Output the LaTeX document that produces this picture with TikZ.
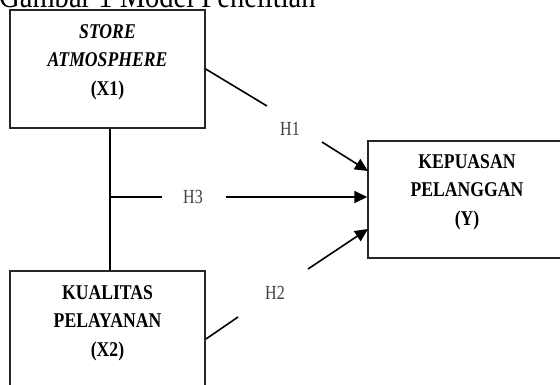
\documentclass[tikz,border=0pt]{standalone}
\usepackage{fontspec}
\setmainfont{Liberation Serif}
\newfontfamily\boxfont{Liberation Serif}[FakeStretch=0.84]
\newfontfamily\labfont{Liberation Serif}[FakeStretch=0.80]
\usetikzlibrary{arrows.meta}
\definecolor{edge}{HTML}{262626}
\definecolor{labgray}{HTML}{404040}
\tikzset{
  box/.style={draw=edge, line width=1.4pt, rectangle, inner sep=0pt},
  boxtext/.style={align=center, inner sep=0pt, font=\boxfont\fontsize{21}{28.5}\selectfont\bfseries},
  hlabel/.style={inner sep=0pt, text=labgray, font=\labfont\fontsize{20}{24}\selectfont},
  conn/.style={draw=black, line width=1.6pt},
  arr/.style={conn, -{Triangle[length=13pt,width=12pt]}},
}
\begin{document}
\begin{tikzpicture}[x=1pt,y=-1pt]
\useasboundingbox (0,0) rectangle (560,384);
\clip (0,0) rectangle (560,384);
% title
\node[anchor=base west, inner sep=0pt, font=\boxfont\fontsize{34}{40}\selectfont] (title) at (-1,7.5) {Gambar 1 Model Penelitian};
% boxes
\node[box, minimum width=195pt, minimum height=118pt] (x1) at (107.5,69) {};
\node[box, minimum width=195pt, minimum height=150pt] (x2) at (107.5,346) {};
\node[box, minimum width=199pt, minimum height=117pt] (y) at (467.5,199.5) {};
% box texts
\node[boxtext, anchor=center] (x1t) at (107.5,62) {\itshape STORE\\\itshape ATMOSPHERE\\(X1)};
\node[boxtext, anchor=center] (x2t) at (107.5,323) {KUALITAS\\PELAYANAN\\(X2)};
\node[boxtext, anchor=center] (yt) at (467,192) {KEPUASAN\\PELANGGAN\\(Y)};
% helper points
\coordinate (j) at (110,197);
\coordinate (h3a) at (162,197);
\coordinate (h3b) at (226,197);
\coordinate (h1a) at (267,106);
\coordinate (h1b) at (322,142);
\coordinate (yin1) at (368,171);
\coordinate (x2out) at (206,339);
\coordinate (h2a) at (238,317);
\coordinate (h2b) at (308,269);
\coordinate (yin2) at (368,229);
% labels
\node[hlabel] (h1) at (290,129) {H1};
\node[hlabel] (h3) at (193,196.5) {H3};
\node[hlabel] (h2) at (275,293) {H2};
% connectors
\draw[conn] (x1.south -| j) -- (x2.north -| j);
\draw[conn] (j) -- (h3a);
\draw[arr] (h3b) -- (y.west |- j);
\draw[conn] (x1.east) -- (h1a);
\draw[arr] (h1b) -- (yin1);
\draw[conn] (x2out) -- (h2a);
\draw[arr] (h2b) -- (yin2);
\end{tikzpicture}
\end{document}
